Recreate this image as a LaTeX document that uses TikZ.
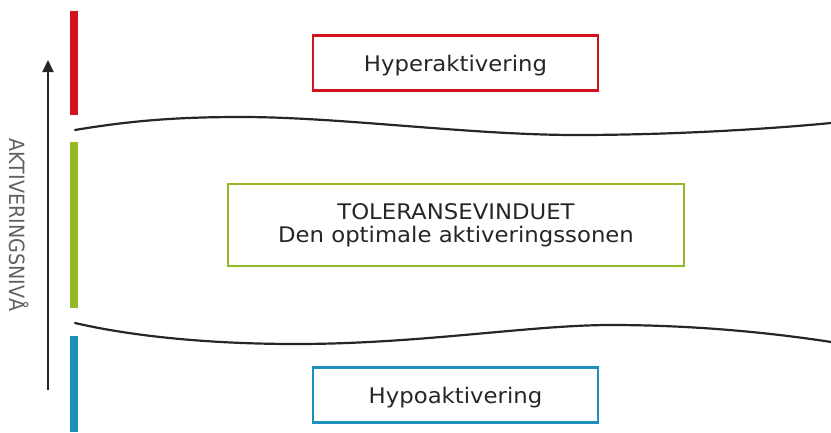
\documentclass[tikz,border=0pt]{standalone}
\usepackage{fontspec}
\setmainfont{DejaVu Sans}[FakeStretch=1.06]
\newfontfamily\axfont{DejaVu Sans}
\usetikzlibrary{arrows.meta}
\definecolor{hyperred}{HTML}{D4121C}
\definecolor{tolgreen}{HTML}{95B826}
\definecolor{hypoblue}{HTML}{1E90BE}
\definecolor{textgray}{HTML}{262626}
\tikzset{
  zonebox/.style={draw=#1, line width=2.6pt, text=textgray, align=center,
    minimum width=285pt, minimum height=55pt, text depth=0pt,
    font=\fontsize{21.5}{23}\selectfont},
  wave/.style={line width=2.2pt, line cap=round, black!85},
}
\begin{document}
\begin{tikzpicture}[x=1pt, y=-1pt]
      \useasboundingbox (0,0) rectangle (831,432);

      % colour bars
      \foreach \c/\a/\b in {hyperred/11/115, tolgreen/142/308, hypoblue/336/432}
        \fill[\c] (70,\a) rectangle (78,\b);

      % axis
      \coordinate (axbot) at (48,390);
      \coordinate (axtop) at (48,60);
      \draw[-{Triangle[length=12pt, width=11pt]}, line width=2.2pt, black!85] (axbot) -- (axtop);
      \node[rotate=-90, xscale=0.91, text=black!62, font=\axfont\fontsize{21}{21}\selectfont] (axlabel) at (19,225) {AKTIVERINGSNIVÅ};

      % borders of the window
      \draw[wave] (75,130) .. controls (140,119) and (190,117) .. (242,117)
        .. controls (340,117) and (470,135) .. (576,135)
        .. controls (680,135) and (780,128) .. (831,123);
      \draw[wave] (75,323) .. controls (140,338) and (220,344) .. (296,344)
        .. controls (420,344) and (530,325) .. (611,325)
        .. controls (700,325) and (780,334) .. (831,342);

      % zones
      \node[zonebox=hyperred] (hyper) at (455.5,63) {Hyperaktivering};
      \node[zonebox=tolgreen, minimum width=456pt, minimum height=82pt, text depth=] (tol) at (456,225)
        {TOLERANSEVINDUET\\Den optimale aktiveringssonen};
      \node[zonebox=hypoblue] (hypo) at (455.5,395) {Hypoaktivering};
    \end{tikzpicture}
\end{document}
